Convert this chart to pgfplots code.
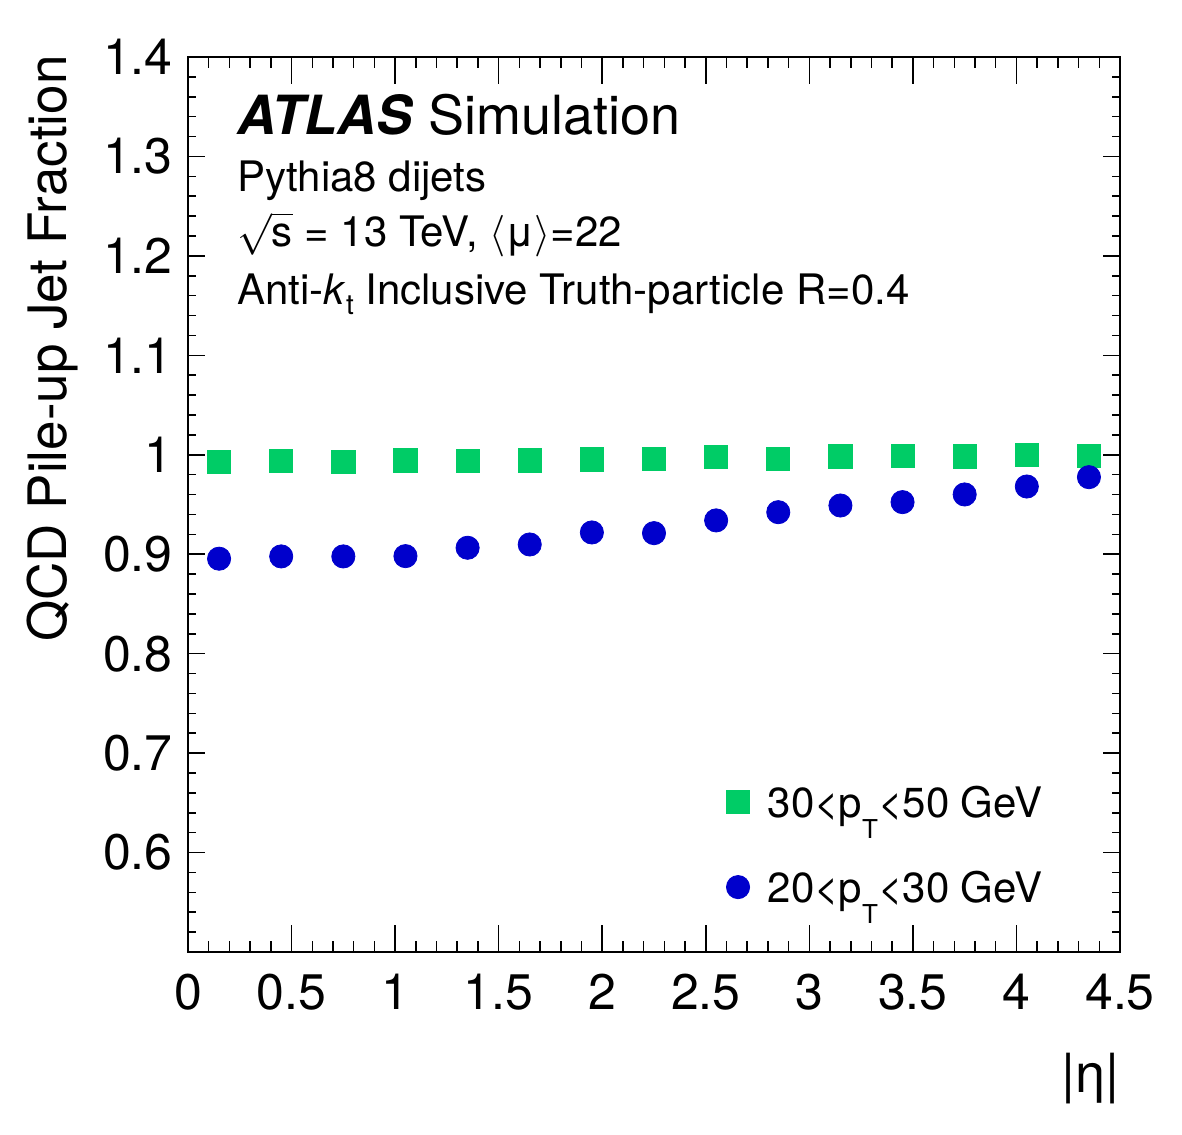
\documentclass[border=0pt]{standalone}
\usepackage{pgfplots}
\pgfplotsset{compat=1.18}
\usepackage{fontspec}
\setmainfont{TeX Gyre Heros}
\definecolor{atgreen}{RGB}{0,204,102}
\definecolor{atblue}{RGB}{0,0,204}
\begin{document}
\begin{tikzpicture}
\begin{axis}[
  name=ax,
  scale only axis,
  width=466pt, height=447.5pt,
  xmin=0, xmax=4.5, ymin=0.5, ymax=1.4,
  xtick={0,0.5,1,1.5,2,2.5,3,3.5,4,4.5},
  minor x tick num=4,
  ytick={0.6,0.7,0.8,0.9,1.0,1.1,1.2,1.3,1.4},
  minor ytick={0.52,0.54,0.56,0.58,0.62,0.64,0.66,0.68,0.72,0.74,0.76,0.78,0.82,0.84,0.86,0.88,0.92,0.94,0.96,0.98,1.02,1.04,1.06,1.08,1.12,1.14,1.16,1.18,1.22,1.24,1.26,1.28,1.32,1.34,1.36,1.38},
  tick align=inside,
  axis line style={line width=1.2pt},
  tick style={line width=0.75pt, black},
  xtick style={/pgfplots/major tick length=13.5pt, /pgfplots/minor tick length=5.5pt},
  ytick style={/pgfplots/major tick length=8.5pt, /pgfplots/minor tick length=4pt},
  /pgf/number format/assume math mode=true,
  ticklabel style={font=\fontsize{25}{30}\selectfont},
  xticklabel style={anchor=base, yshift=-28.5pt, inner sep=0pt},
  yticklabel style={anchor=east, xshift=-7.5pt, inner sep=0pt},
  legend style={draw=none, fill=none, at={(0.5773,0.1847)}, anchor=north west,
    inner sep=0pt, row sep=27.5pt, column sep=9pt,
    font=\fontsize{21}{24}\selectfont,
    nodes={inner sep=0pt, text height=15pt, text depth=0pt}},
  legend cell align=left,
  legend image code/.code={\draw[#1] plot coordinates {(0pt,0pt)};},
]
\addplot[only marks, mark=square*, mark size=5.8pt, color=atgreen] coordinates {
(0.15,0.9926) (0.45,0.9936) (0.75,0.9930) (1.05,0.9943) (1.35,0.9936)
(1.65,0.9943) (1.95,0.9953) (2.25,0.9956) (2.55,0.9976) (2.85,0.9956)
(3.15,0.9983) (3.45,0.9986) (3.75,0.9983) (4.05,1.0000) (4.35,0.9986)
};
\addlegendentry{30<p\raisebox{-10.5pt}{\fontsize{13}{13}\selectfont T}<50 GeV}
\addplot[only marks, mark=*, mark size=5.8pt, color=atblue] coordinates {
(0.15,0.8955) (0.45,0.8978) (0.75,0.8978) (1.05,0.8981) (1.35,0.9065)
(1.65,0.9098) (1.95,0.9219) (2.25,0.9212) (2.55,0.9340) (2.85,0.9423)
(3.15,0.9490) (3.45,0.9524) (3.75,0.9601) (4.05,0.9681) (4.35,0.9775)
};
\addlegendentry{20<p\raisebox{-10.5pt}{\fontsize{13}{13}\selectfont T}<30 GeV}
\end{axis}
\node[anchor=base west, inner sep=0pt, font=\fontsize{27}{32}\selectfont] at ([shift={(24.7pt,408.5pt)}]ax.south west) {\textbf{\textit{ATLAS}} Simulation};
\node[anchor=base west, inner sep=0pt, font=\fontsize{21}{24}\selectfont] at ([shift={(24.5pt,380.15pt)}]ax.south west) {Pythia8 dijets};
\node[anchor=base west, inner sep=0pt, font=\fontsize{21}{24}\selectfont] at ([shift={(24.5pt,352.65pt)}]ax.south west) {\smash{$\sqrt{\mbox{s}}$} = 13 TeV, $\langle\mbox{μ}\rangle$=22};
\node[anchor=base west, inner sep=0pt, font=\fontsize{21}{24}\selectfont] at ([shift={(24.5pt,323.5pt)}]ax.south west) {Anti-\textit{k}\raisebox{-5pt}{\fontsize{14}{14}\selectfont t} Inclusive Truth-particle R=0.4};
\node[anchor=east, inner sep=0pt, font=\fontsize{27}{30}\selectfont] at ([shift={(466pt,-63.5pt)}]ax.south west) {|η|};
\node[rotate=90, anchor=base east, inner sep=0pt, font=\fontsize{26.5}{30}\selectfont] at ([shift={(-60.5pt,448.5pt)}]ax.south west) {QCD Pile-up Jet Fraction};
\path ([shift={(-94pt,-91pt)}]ax.south west) rectangle ++(591pt,567pt);
\end{tikzpicture}
\end{document}
